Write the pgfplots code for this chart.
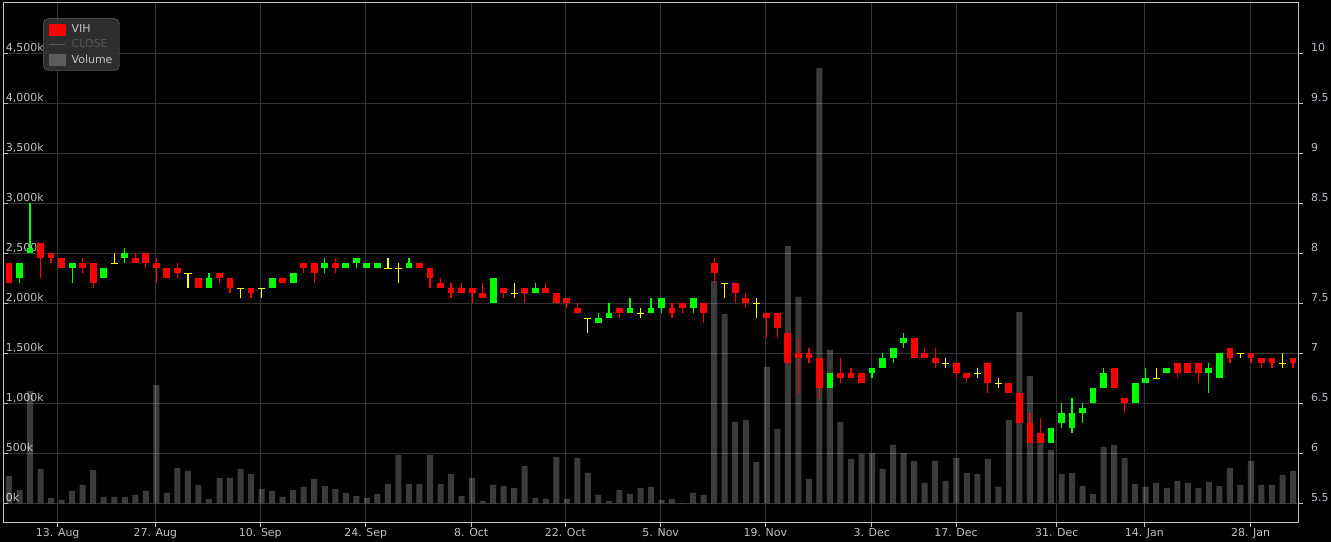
\documentclass[border=0pt]{standalone}
\usepackage{fontspec}
\setmainfont{DejaVu Sans}
\usepackage{pgfplots}
\usepackage{pgfplotstable}
\pgfplotsset{compat=1.18}

\definecolor{framegray}{RGB}{192,192,192}
\definecolor{gridgray}{RGB}{51,51,51}
\definecolor{labelgray}{RGB}{192,192,192}
\definecolor{pricegray}{RGB}{180,188,200}
\definecolor{upgreen}{RGB}{0,255,0}
\definecolor{downred}{RGB}{255,0,0}
\definecolor{flatyellow}{RGB}{255,255,0}
\definecolor{legfill}{RGB}{51,51,51}
\definecolor{legdraw}{RGB}{110,110,110}
\definecolor{hiddengray}{RGB}{85,85,85}
\definecolor{volkey}{RGB}{92,92,92}

% candles: n = trading day index, O H L C in price units
\pgfplotstableread{
n O H L C
1 7.75 7.90 7.70 7.90
2 8.00 8.50 8.00 8.05
6 7.85 7.90 7.70 7.90
9 7.75 7.85 7.75 7.85
11 7.95 8.05 7.90 8.00
19 7.65 7.80 7.65 7.75
25 7.65 7.75 7.65 7.75
27 7.70 7.80 7.70 7.80
30 7.85 7.95 7.80 7.90
32 7.85 7.90 7.85 7.90
33 7.90 7.95 7.85 7.95
34 7.85 7.90 7.85 7.90
35 7.85 7.90 7.85 7.90
38 7.85 7.95 7.85 7.90
46 7.50 7.75 7.50 7.75
50 7.60 7.70 7.60 7.65
56 7.30 7.40 7.30 7.35
57 7.35 7.50 7.35 7.40
59 7.40 7.55 7.40 7.45
61 7.40 7.55 7.40 7.45
62 7.45 7.55 7.40 7.55
65 7.45 7.55 7.40 7.55
78 6.65 6.80 6.65 6.80
82 6.80 6.85 6.75 6.85
83 6.85 7.00 6.85 6.95
84 6.95 7.05 6.90 7.05
85 7.10 7.20 7.05 7.15
99 6.10 6.25 6.10 6.25
100 6.30 6.50 6.25 6.40
101 6.25 6.55 6.20 6.40
102 6.40 6.50 6.30 6.45
103 6.50 6.65 6.50 6.65
104 6.65 6.85 6.65 6.80
107 6.50 6.70 6.50 6.70
108 6.70 6.85 6.70 6.75
110 6.80 6.85 6.80 6.85
114 6.80 6.90 6.60 6.85
115 6.75 7.00 6.75 7.00
}\up

\pgfplotstableread{
n O H L C
0 7.90 7.90 7.70 7.70
3 8.10 8.10 7.75 7.95
4 8.00 8.00 7.90 7.95
5 7.95 7.95 7.85 7.85
7 7.90 7.95 7.80 7.85
8 7.90 7.90 7.65 7.70
12 7.95 8.00 7.90 7.90
13 8.00 8.00 7.85 7.90
14 7.90 7.95 7.70 7.85
15 7.85 7.85 7.75 7.75
16 7.85 7.90 7.75 7.80
18 7.75 7.75 7.65 7.65
20 7.80 7.80 7.70 7.75
21 7.75 7.75 7.60 7.65
23 7.65 7.65 7.55 7.60
26 7.75 7.75 7.70 7.70
28 7.90 7.90 7.80 7.85
29 7.90 7.90 7.70 7.80
31 7.90 7.95 7.80 7.85
39 7.90 7.90 7.85 7.85
40 7.85 7.85 7.65 7.75
41 7.70 7.75 7.65 7.65
42 7.65 7.70 7.55 7.60
43 7.65 7.70 7.60 7.60
44 7.65 7.65 7.50 7.60
45 7.60 7.70 7.55 7.55
47 7.65 7.65 7.55 7.60
49 7.65 7.65 7.50 7.60
51 7.65 7.70 7.60 7.60
52 7.60 7.60 7.50 7.50
53 7.55 7.55 7.45 7.50
54 7.45 7.50 7.40 7.40
58 7.45 7.45 7.35 7.40
63 7.45 7.50 7.35 7.40
64 7.50 7.50 7.40 7.45
66 7.50 7.50 7.30 7.40
67 7.90 7.95 7.70 7.80
69 7.70 7.70 7.50 7.60
70 7.55 7.60 7.45 7.50
72 7.40 7.40 7.15 7.35
73 7.40 7.40 7.15 7.25
74 7.20 7.20 6.90 6.90
75 7.00 7.15 6.60 6.95
76 7.00 7.05 6.90 6.95
77 6.95 6.95 6.55 6.65
79 6.80 6.95 6.70 6.75
80 6.80 6.85 6.75 6.75
81 6.80 6.80 6.70 6.70
86 7.15 7.15 6.95 6.95
87 7.00 7.05 6.95 6.95
88 6.95 7.05 6.85 6.90
90 6.90 6.90 6.75 6.80
91 6.80 6.80 6.70 6.75
93 6.90 6.90 6.60 6.70
95 6.70 6.70 6.60 6.60
96 6.60 6.60 6.30 6.30
97 6.30 6.40 6.10 6.10
98 6.20 6.35 6.10 6.10
105 6.85 6.85 6.65 6.65
106 6.55 6.55 6.40 6.50
111 6.90 6.90 6.75 6.80
112 6.90 6.90 6.80 6.80
113 6.90 6.90 6.70 6.80
116 7.05 7.05 6.90 6.95
118 7.00 7.00 6.90 6.95
119 6.95 6.95 6.85 6.90
120 6.95 6.95 6.85 6.90
122 6.95 6.95 6.85 6.90
}\down

\pgfplotstableread{
n O H L C
10 7.90 8.00 7.90 7.90
17 7.80 7.80 7.65 7.80
22 7.65 7.65 7.55 7.65
24 7.65 7.65 7.55 7.65
36 7.85 7.95 7.85 7.85
37 7.85 7.90 7.70 7.85
48 7.60 7.70 7.55 7.60
55 7.35 7.35 7.20 7.35
60 7.40 7.45 7.35 7.40
68 7.70 7.70 7.55 7.70
71 7.50 7.55 7.35 7.50
89 6.90 6.95 6.85 6.90
92 6.80 6.85 6.75 6.80
94 6.70 6.75 6.65 6.70
109 6.75 6.85 6.75 6.75
117 7.00 7.00 6.95 7.00
121 6.90 7.00 6.85 6.90
}\flat

% volume in thousands
\pgfplotstableread{
n V
0 273
1 133
2 1123
3 343
4 53
5 33
6 123
7 183
8 333
9 63
10 63
11 63
12 83
13 123
14 1183
15 103
16 353
17 323
18 183
19 43
20 253
21 253
22 343
23 293
24 143
25 123
26 63
27 133
28 163
29 243
30 173
31 143
32 103
33 73
34 53
35 93
36 193
37 483
38 193
39 193
40 483
41 193
42 293
43 73
44 253
45 23
46 183
47 173
48 153
49 373
50 53
51 43
52 463
53 43
54 453
55 303
56 83
57 23
58 133
59 93
60 153
61 163
62 33
63 43
64 5
65 103
66 83
67 2223
68 1893
69 813
70 833
71 413
72 1363
73 743
74 2573
75 2063
76 243
77 4353
78 1533
79 813
80 443
81 493
82 503
83 343
84 583
85 503
86 423
87 203
88 423
89 223
90 453
91 303
92 293
93 443
94 163
95 833
96 1913
97 1273
98 600
99 533
100 293
101 303
102 173
103 93
104 563
105 583
106 453
107 193
108 163
109 203
110 153
111 223
112 203
113 153
114 213
115 173
116 353
117 183
118 423
119 183
120 183
121 283
122 323
}\vol

\pgfplotsset{
  chartbox/.style={
    at={(3bp,19.7bp)}, anchor=south west,
    scale only axis, width=1295bp, height=520bp,
    xmin=-0.57, xmax=122.47,
    tick label style={font=\fontsize{11}{13}\selectfont},
    major tick length=5bp,
  },
}

\begin{document}
\begin{tikzpicture}
\fill[black] (0,0) rectangle (1331bp,542bp);

% volume axis (left), carries the grid and frame
\begin{axis}[chartbox,
  ymin=-190, ymax=5010,
  axis line style={draw=framegray, line width=1bp},
  grid=major, grid style={draw=gridgray, line width=1bp},
  xtick={4.63,13.90,23.88,33.89,43.92,52.86,61.92,71.86,81.97,89.98,99.55,107.87,117.97},
  xticklabels={13. Aug,27. Aug,10. Sep,24. Sep,8. Oct,22. Oct,5. Nov,19. Nov,3. Dec,17. Dec,31. Dec,14. Jan,28. Jan},
  xtick pos=bottom, xtick align=outside,
  ytick={0,500,1000,1500,2000,2500,3000,3500,4000,4500},
  yticklabels={0k,500k,{1,000k},{1,500k},{2,000k},{2,500k},{3,000k},{3,500k},{4,000k},{4,500k}},
  ytick pos=left, ytick align=inside,
  tick style={draw=framegray, line width=1bp},
  xticklabel style={text=labelgray, anchor=base, inner sep=0pt, yshift=-9.4bp},
  yticklabel style={text=labelgray, anchor=base west, inner sep=0pt, xshift=2.7bp, yshift=1.6bp},
]
\addplot[ybar, bar width=6bp, draw=none, fill=white, fill opacity=0.23, forget plot]
  table[x=n, y=V] {\vol};
\end{axis}

% price axis (right), candles on top of the volume
\begin{axis}[chartbox,
  ymin=5.31, ymax=10.51,
  axis line style={draw=none},
  xtick=\empty,
  ytick={5.5,6,6.5,7,7.5,8,8.5,9,9.5,10},
  yticklabels={5.5,6,6.5,7,7.5,8,8.5,9,9.5,10},
  ytick pos=right, yticklabel pos=right, ytick align=outside,
  tick style={draw=framegray, line width=1bp},
  yticklabel style={text=pricegray, anchor=base west, inner sep=0pt, xshift=8bp, yshift=1.5bp},
  legend style={at={(0.0309,0.969)}, anchor=north west,
    fill=legfill, fill opacity=0.9, text opacity=1, draw=legdraw,
    rounded corners=5bp, inner xsep=5bp, inner ysep=4bp,
    font=\fontsize{11}{13}\selectfont, text=labelgray,
    row sep=1.5bp, /tikz/every odd column/.append style={column sep=4bp}},
  legend cell align=left,
]
% wicks
\addplot[draw=none, mark=none, forget plot,
  error bars/.cd, y dir=both, y explicit, error mark=none,
  error bar style={draw=upgreen, line width=1.2bp}]
  table[x=n, y=C, y error plus expr=\thisrow{H}-\thisrow{C}, y error minus expr=\thisrow{C}-\thisrow{L}] {\up};
\addplot[draw=none, mark=none, forget plot,
  error bars/.cd, y dir=both, y explicit, error mark=none,
  error bar style={draw=downred, line width=1.2bp}]
  table[x=n, y=C, y error plus expr=\thisrow{H}-\thisrow{C}, y error minus expr=\thisrow{C}-\thisrow{L}] {\down};
\addplot[draw=none, mark=none, forget plot,
  error bars/.cd, y dir=both, y explicit, error mark=none,
  error bar style={draw=flatyellow, line width=1.2bp}]
  table[x=n, y=C, y error plus expr=\thisrow{H}-\thisrow{C}, y error minus expr=\thisrow{C}-\thisrow{L}] {\flat};
% bodies
\addplot[draw=none, mark=none, forget plot,
  error bars/.cd, y dir=minus, y explicit, error mark=none,
  error bar style={draw=upgreen, line width=6.8bp, line cap=butt}]
  table[x=n, y=C, y error minus expr=\thisrow{C}-\thisrow{O}] {\up};
\addplot[draw=none, mark=none, forget plot,
  error bars/.cd, y dir=plus, y explicit, error mark=none,
  error bar style={draw=downred, line width=6.8bp, line cap=butt}]
  table[x=n, y=C, y error plus expr=\thisrow{O}-\thisrow{C}] {\down};
\addplot[only marks, mark=-, mark size=3.6bp, forget plot,
  mark options={draw=flatyellow, line width=1.2bp}]
  table[x=n, y=C] {\flat};

\addlegendimage{legend image code/.code={\fill[downred, sharp corners, fill opacity=1] (0bp,-5.5bp) rectangle (16bp,5.5bp);}}
\addlegendentry{VIH}
\addlegendimage{legend image code/.code={\draw[draw=hiddengray, sharp corners, draw opacity=1, line width=1.5bp] (0bp,0bp) -- (16bp,0bp);}}
\addlegendentry{\textcolor{hiddengray}{CLOSE}}
\addlegendimage{legend image code/.code={\fill[volkey, sharp corners, fill opacity=1] (0bp,-5.5bp) rectangle (16bp,5.5bp);}}
\addlegendentry{Volume}
\end{axis}

\pgfresetboundingbox
\path[use as bounding box] (0,0) rectangle (1331bp,542bp);
\end{tikzpicture}
\end{document}
